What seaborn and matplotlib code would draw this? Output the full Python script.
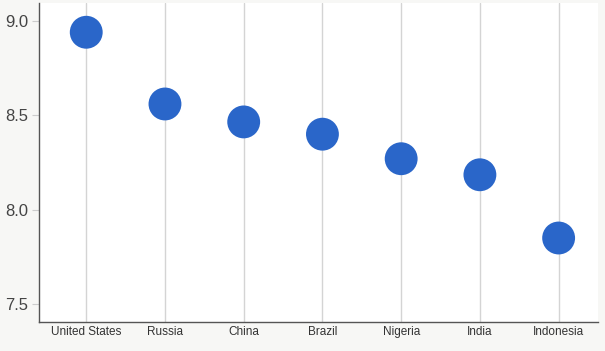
import matplotlib
matplotlib.use("Agg")
import matplotlib.pyplot as plt
import seaborn as sns
import pandas as pd

countries = ["United States", "Russia", "China", "Brazil", "Nigeria", "India", "Indonesia"]
values = [8.94, 8.56, 8.465, 8.40, 8.27, 8.185, 7.85]
yticks = [7.5, 8.0, 8.5, 9.0]

df = pd.DataFrame({"country": countries, "value": values})

sns.set_style("white")
plt.rcParams['font.family'] = ['Arial', 'Liberation Sans', 'DejaVu Sans']

W, H = 605, 351
fig = plt.figure(figsize=(W / 100, H / 100), dpi=100)
fig.patch.set_facecolor("#f7f7f5")
ax = fig.add_axes([39 / W, (H - 322) / H, 559 / W, 319 / H])
ax.set_facecolor("white")

sns.scatterplot(data=df, x="country", y="value", ax=ax, s=560,
                color="#2a66c9", edgecolor="none", zorder=3, legend=False)

ax.set_xlim(-0.6, 6.5)
ax.set_ylim(7.405, 9.095)
ax.set_yticks(yticks)
ax.set_yticklabels([f"{t:.1f}" for t in yticks])
ax.grid(axis="x", color="#d4d4d4", linewidth=1)
ax.grid(axis="y", visible=False)
ax.set_axisbelow(True)

for side in ["top", "right"]:
    ax.spines[side].set_visible(False)
for side in ["left", "bottom"]:
    ax.spines[side].set_color("#555555")
    ax.spines[side].set_linewidth(1)

ax.tick_params(axis="y", length=5, color="#cccccc", labelsize=12, labelcolor="#444444", pad=3, left=True)
ax.tick_params(axis="x", length=0, labelsize=8.5, labelcolor="#333333", pad=3)
ax.set_xlabel("")
ax.set_ylabel("")

fig.savefig("out.png", dpi=100, facecolor=fig.get_facecolor())
